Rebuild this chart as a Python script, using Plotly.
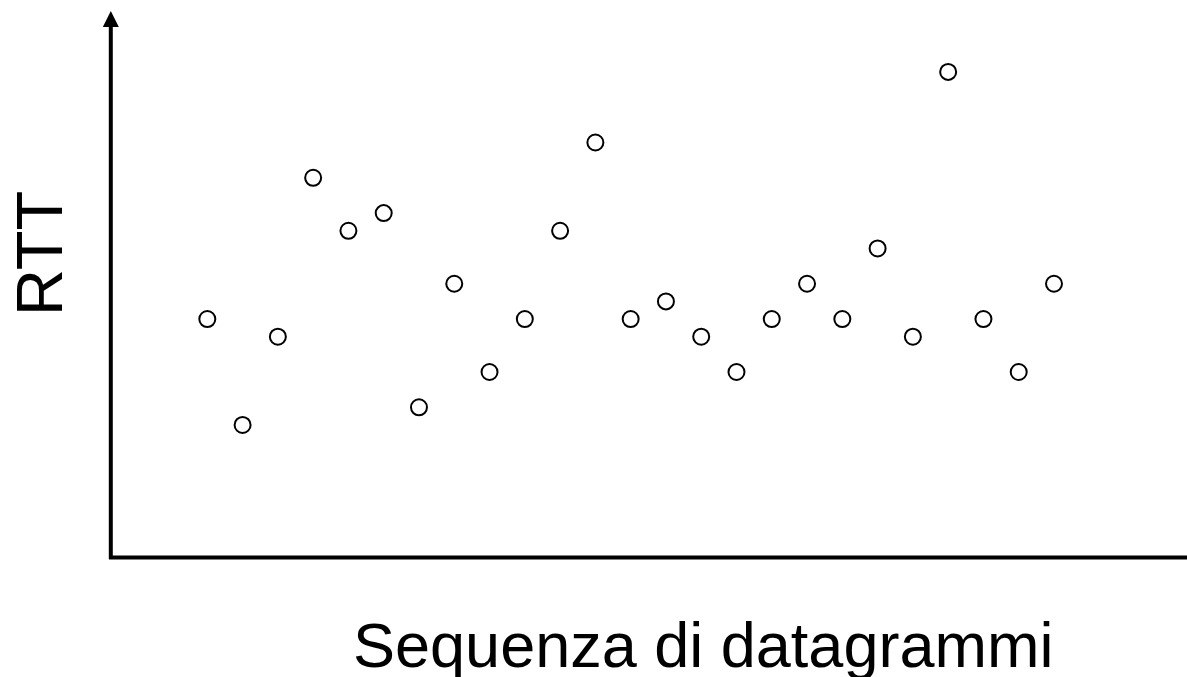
import plotly.graph_objects as go

# Data
sequenza = list(range(1, 26))
rtt = [10, 4, 9, 18, 15, 16, 5, 12, 7, 10, 15, 20, 10, 11, 9, 7, 10, 12, 10, 14, 9, 24, 10, 7, 12]
x_label = "Sequenza di datagrammi"
y_label = "RTT"

W, H = 1187, 677
ML, MR, MT, MB = 111, 0, 11, 120
PW, PH = W - ML - MR, H - MT - MB

def px_x(p):
    return (p - ML) / PW

def px_y(p):
    return (H - MB - p) / PH

fig = go.Figure()
fig.add_trace(go.Scatter(
    x=sequenza, y=rtt, mode="markers",
    marker=dict(symbol="circle", size=16, color="white",
                line=dict(color="black", width=2)),
    hoverinfo="skip", showlegend=False,
))

font_family = "Liberation Sans, Arial, sans-serif"

shapes = [
    # x axis
    dict(type="line", xref="paper", yref="paper", x0=px_x(109), x1=1.0, y0=px_y(557.5), y1=px_y(557.5),
         line=dict(color="black", width=4)),
    # y axis
    dict(type="line", xref="paper", yref="paper", x0=px_x(110.8), x1=px_x(110.8), y0=px_y(559), y1=px_y(25),
         line=dict(color="black", width=4)),
    # arrow head
    dict(type="path", xref="paper", yref="paper",
         path=f"M {px_x(110.8)},{px_y(11)} L {px_x(110.8-8)},{px_y(27)} L {px_x(110.8+8)},{px_y(27)} Z",
         fillcolor="black", line=dict(color="black", width=0)),
]

annotations = [
    dict(text=y_label, xref="paper", yref="paper", x=px_x(40), y=px_y(254),
         xanchor="center", yanchor="middle", textangle=-90, showarrow=False,
         font=dict(family=font_family, size=65, color="black")),
    dict(text=x_label, xref="paper", yref="paper", x=px_x(703), y=px_y(645),
         xanchor="center", yanchor="middle", showarrow=False,
         font=dict(family=font_family, size=63, color="black")),
]

fig.update_layout(
    width=W, height=H,
    margin=dict(l=ML, r=MR, t=MT, b=MB, pad=0),
    paper_bgcolor="white", plot_bgcolor="white",
    xaxis=dict(range=[-1.73, 28.77], visible=False, fixedrange=True),
    yaxis=dict(range=[-3.48, 27.45], visible=False, fixedrange=True),
    shapes=shapes, annotations=annotations,
)

fig.write_html("out.html", config={"displayModeBar": False},
               post_script="document.body.style.margin='0';document.body.style.overflow='hidden';")
